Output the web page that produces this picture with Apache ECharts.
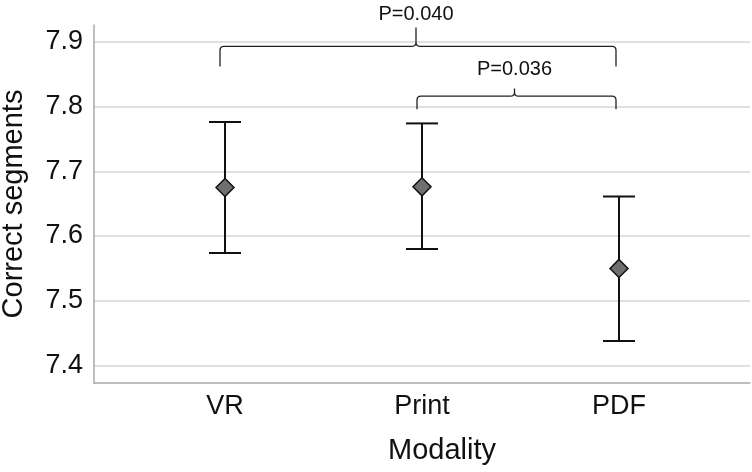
<!DOCTYPE html>
<html><head><meta charset="utf-8">
<script src="https://cdn.jsdelivr.net/npm/echarts@6/dist/echarts.min.js"></script>
<style>html,body{margin:0;padding:0;background:#fff}#c{width:752px;height:472px}</style>
</head><body><div id="c"></div>
<script>
const categories = ['VR', 'Print', 'PDF'];
const means = [7.675, 7.676, 7.550];
const upper = [7.776, 7.774, 7.661];
const lower = [7.574, 7.580, 7.438];
const yTicks = [7.4, 7.5, 7.6, 7.7, 7.8, 7.9];
const compFrom = [0, 1];
const compTo = [2, 2];
const compY = [7.893, 7.816];
const compEndY = [7.862, 7.796];
const compPeakY = [7.922, 7.828];
const compLabelY = [7.943, 7.858];
const compText = ['P=0.040', 'P=0.036'];

const FONT = '"Liberation Sans", Arial, Helvetica, sans-serif';
const chart = echarts.init(document.getElementById('c'), null, {renderer: 'canvas'});

const errData = categories.map((c, i) => [i, lower[i], upper[i]]);
const meanData = categories.map((c, i) => [i, means[i]]);
const compData = compFrom.map((f, i) => [f, compTo[i], compY[i], compEndY[i], compPeakY[i], compLabelY[i], i]);

chart.setOption({
  animation: false,
  grid: {left: 94, right: 2, top: 25, bottom: 89, containLabel: false, outerBoundsMode: 'none'},
  xAxis: {
    type: 'value', min: -0.665, max: 2.665,
    axisLine: {show: true, onZero: false, lineStyle: {color: '#a8a8a8', width: 1.5}},
    axisTick: {show: false},
    splitLine: {show: false},
    axisLabel: {
      customValues: [0, 1, 2],
      formatter: v => categories[Math.round(v)] || '',
      fontFamily: FONT, fontSize: 27, color: '#111', margin: 10
    }
  },
  yAxis: {
    type: 'value', min: 7.373, max: 7.926,
    name: 'Correct segments', nameLocation: 'middle', nameGap: 66,
    nameTextStyle: {fontFamily: FONT, fontSize: 29, color: '#111'},
    axisLine: {show: true, onZero: false, lineStyle: {color: '#a8a8a8', width: 1.5}},
    axisTick: {show: false, customValues: yTicks},
    splitLine: {show: true, lineStyle: {color: '#d6d6d6', width: 1.5}},
    axisLabel: {
      customValues: yTicks,
      formatter: v => v.toFixed(1),
      fontFamily: FONT, fontSize: 27, color: '#111', margin: 11
    }
  },
  graphic: [{
    type: 'text', x: 442, y: 451,
    style: {text: 'Modality', font: '29px ' + FONT, fill: '#111', textAlign: 'center', textVerticalAlign: 'middle'}
  }],
  series: [
    {
      type: 'custom', data: errData, clip: false, z: 2,
      renderItem: (params, api) => {
        const x = api.value(0);
        const lo = api.coord([x, api.value(1)]);
        const hi = api.coord([x, api.value(2)]);
        const hw = 16;
        const st = {stroke: '#111', lineWidth: 2, fill: null};
        return {type: 'group', children: [
          {type: 'line', shape: {x1: lo[0], y1: lo[1], x2: hi[0], y2: hi[1]}, style: st},
          {type: 'line', shape: {x1: lo[0] - hw, y1: lo[1], x2: lo[0] + hw, y2: lo[1]}, style: st},
          {type: 'line', shape: {x1: hi[0] - hw, y1: hi[1], x2: hi[0] + hw, y2: hi[1]}, style: st}
        ]};
      }
    },
    {
      type: 'scatter', data: meanData, symbol: 'diamond', symbolSize: [18, 18], z: 5,
      itemStyle: {color: '#6f6f6f', borderColor: '#111', borderWidth: 1.5, opacity: 1}
    },
    {
      type: 'custom', data: compData, clip: false, z: 3,
      renderItem: (params, api) => {
        const a = api.coord([api.value(0), api.value(2)]);
        const b = api.coord([api.value(1), api.value(2)]);
        const x1 = a[0] - 5, x2 = b[0] - 3;
        const y = a[1];
        const yEnd = api.coord([0, api.value(3)])[1];
        const yPeak = api.coord([0, api.value(4)])[1];
        const yLab = api.coord([0, api.value(5)])[1];
        const xm = (x1 + x2) / 2 - 2;
        const r = 4;
        const path = `M${x1},${yEnd} L${x1},${y + r} Q${x1},${y} ${x1 + r},${y} L${xm - r},${y} Q${xm},${y} ${xm},${y - r} L${xm},${yPeak} M${xm},${y - r} Q${xm},${y} ${xm + r},${y} L${x2 - r},${y} Q${x2},${y} ${x2},${y + r} L${x2},${yEnd}`;
        return {type: 'group', children: [
          {type: 'path', shape: {pathData: path}, style: {stroke: '#222', lineWidth: 1.3, fill: null}},
          {type: 'text', x: xm, y: yLab, style: {text: compText[api.value(6)], font: '20px ' + FONT, fill: '#111', textAlign: 'center', textVerticalAlign: 'middle'}}
        ]};
      }
    }
  ]
});
</script></body></html>
